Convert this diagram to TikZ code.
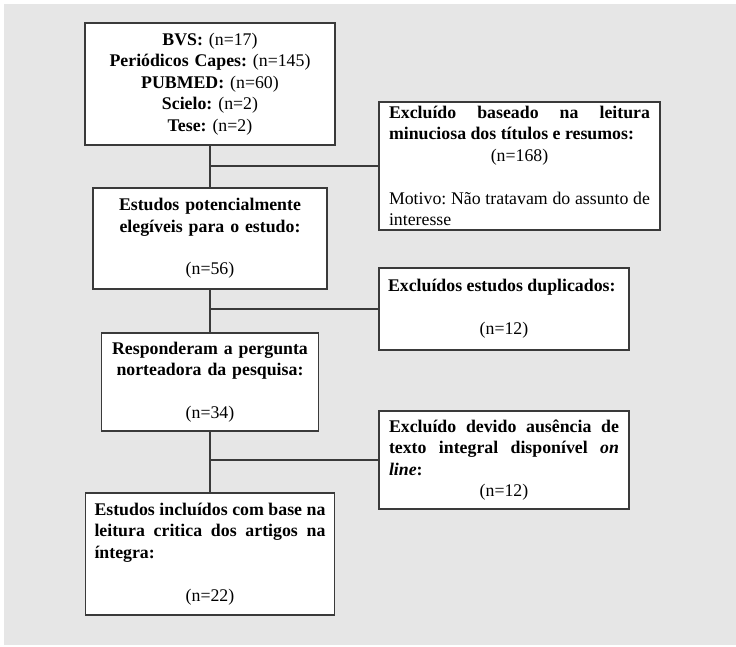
\documentclass[tikz,border=0pt]{standalone}
\usepackage{fontspec}
\setmainfont{Liberation Serif}
\setlength{\parindent}{0pt}
\frenchspacing
\definecolor{fundo}{HTML}{E6E6E6}
\definecolor{borda}{HTML}{3A3A3A}
\begin{document}
\begin{tikzpicture}[x=1bp,y=-1bp]
	\tikzstyle{every node}+=[font=\fontsize{17.8bp}{21.4bp}\selectfont]
	\tikzstyle{caixa}=[draw=borda, line width=1.2bp, fill=white, inner xsep=9bp, inner ysep=0pt]
	\tikzstyle{ligacao}=[draw=borda, line width=1.2bp]
	\useasboundingbox (0,0) rectangle (736,647);
	\fill [fundo] (4,4) rectangle (736,645);
	% coluna principal
	\node [caixa, minimum width=250bp, minimum height=122bp, text width=232bp, align=center] (fontes) at (210,84) {\textbf{BVS:} (n=17)\\ \textbf{Periódicos Capes:} (n=145)\\ \textbf{PUBMED:} (n=60)\\ \textbf{Scielo:} (n=2)\\ \textbf{Tese:} (n=2)};
	\node [caixa, minimum width=234bp, minimum height=101bp, text width=216bp, align=center] (elegiveis) at (210,238.5) {\textbf{Estudos potencialmente}\\ \textbf{elegíveis para o estudo:}\\[21.4bp] (n=56)};
	\node [caixa, minimum width=217bp, minimum height=98bp, text width=199bp, align=center] (pergunta) at (210,382) {\textbf{Responderam a pergunta}\\ \textbf{norteadora da pesquisa:}\\[21.4bp] (n=34)};
	\node [caixa, minimum width=249bp, minimum height=122bp, text width=231bp, align=justify] (incluidos) at (210,554) {\textbf{Estudos incluídos com base na\linebreak leitura critica dos artigos na\linebreak íntegra:}\par\vspace{21.4bp}\centerline{(n=22)}};
	% exclusoes
	\node [caixa, inner xsep=10bp, minimum width=281bp, minimum height=128bp, text width=261bp, align=justify] (excl1) at (519.5,166) {\textbf{Excluído baseado na leitura\linebreak minuciosa dos títulos e resumos:}\par\centerline{(n=168)}\vspace{21.4bp}Motivo: Não tratavam do assunto de\linebreak interesse};
	\node [caixa, inner xsep=9bp, minimum width=250bp, minimum height=82bp, text width=232bp, align=justify] (excl2) at (504,309) {\textbf{Excluídos estudos duplicados:}\par\vspace{21.4bp}\centerline{(n=12)}};
	\node [caixa, inner xsep=10bp, minimum width=250bp, minimum height=98bp, text width=230bp, align=justify] (excl3) at (504,460) {\textbf{Excluído devido ausência de\linebreak texto integral disponível \textit{on\linebreak line}:}\par\centerline{(n=12)}};
	% ligacoes
	\draw [ligacao] (fontes.south) -- (elegiveis.north);
	\draw [ligacao] (elegiveis.south) -- (pergunta.north);
	\draw [ligacao] (pergunta.south) -- (incluidos.north);
	\draw [ligacao] (excl1.west) -- (excl1.west -| fontes.south);
	\draw [ligacao] (excl2.west) -- (excl2.west -| elegiveis.south);
	\draw [ligacao] (excl3.west) -- (excl3.west -| pergunta.south);
\end{tikzpicture}
\end{document}
